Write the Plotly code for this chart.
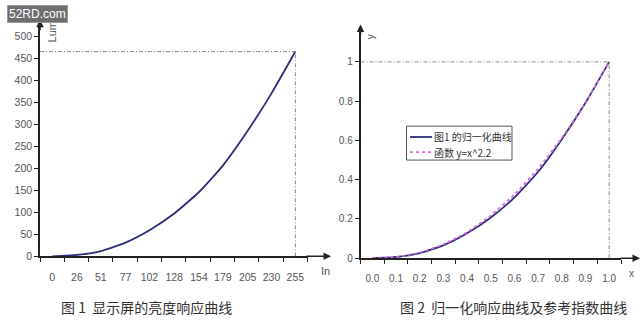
import plotly.graph_objects as go

# Figure 1: measured luminance against input level
in_levels = [0, 26, 51, 77, 102, 128, 154, 179, 205, 230, 255]
in_labels = ["0", "26", "51", "77", "102", "128", "154", "179", "205", "230", "255"]
luminance = [0, 3, 12, 31, 59, 97, 146, 206, 285, 370, 465]

# Figure 2: reference power function y = x^2.2 (tabulated)
ref_x = [0.0, 0.1, 0.2, 0.3, 0.4, 0.5, 0.6, 0.7, 0.8, 0.9, 1.0]
ref_y = [0.0, 0.006, 0.029, 0.071, 0.133, 0.218, 0.325, 0.456, 0.612, 0.793, 1.0]
x2_labels = ["0.0", "0.1", "0.2", "0.3", "0.4", "0.5", "0.6", "0.7", "0.8", "0.9", "1.0"]
y2_ticks = [0, 0.2, 0.4, 0.6, 0.8, 1.0]
y2_labels = ["0", "0.2", "0.4", "0.6", "0.8", "1"]
legend_names = ["图1 的归一化曲线", "函数 y=x^2.2"]

# normalised response derived from the measured curve
in_max = max(in_levels)
lum_max = max(luminance)
norm_x = [v / in_max for v in in_levels]
norm_y = [v / lum_max for v in luminance]

W, H = 643, 333


def px(x):
    return x / W


def py(y):
    return (H - y) / H


NAVY = "#2e2e7c"
PINK = "#d36fd3"
AXIS = "#222222"
TICK_TXT = "#555555"
GUIDE = "#8a8a8a"
FONT = "Liberation Sans, Arial, sans-serif"
CJK = "Noto Sans CJK SC, sans-serif"

navy_line = dict(color=NAVY, width=1.8)
pink_line = dict(color=PINK, width=1.8, dash="dot")

fig = go.Figure()

fig.add_trace(go.Scatter(
    x=in_levels, y=luminance, mode="lines",
    line=dict(**navy_line, shape="spline", smoothing=0.5),
    showlegend=False, xaxis="x", yaxis="y",
))

fig.add_trace(go.Scatter(
    x=norm_x, y=norm_y, mode="lines", name=legend_names[0],
    line=dict(**navy_line, shape="spline", smoothing=0.5),
    showlegend=False, xaxis="x2", yaxis="y2",
))
fig.add_trace(go.Scatter(
    x=ref_x, y=ref_y, mode="lines", name=legend_names[1],
    line=dict(**pink_line, shape="spline", smoothing=0.5),
    showlegend=False, xaxis="x2", yaxis="y2",
))

axis_common = dict(
    showline=True, linecolor=AXIS, linewidth=1.5, showgrid=False, zeroline=False,
    tickfont=dict(family=FONT, color=TICK_TXT),
    fixedrange=True,
)

fig.update_layout(
    width=W, height=H,
    margin=dict(l=0, r=0, t=0, b=0),
    paper_bgcolor="white", plot_bgcolor="white",
    showlegend=False,
    xaxis=dict(
        **axis_common, domain=[px(40), px(307.5)], range=[-12.75, 267.75],
        anchor="y", tickmode="array", tickvals=in_levels, ticktext=in_labels,
        ticks="", tickfont_size=10.5, ticklabelstandoff=10,
        minor=dict(ticks="outside", ticklen=4, tickcolor=AXIS, tickwidth=1,
                   tick0=-12.75, dtick=25.5),
    ),
    yaxis=dict(
        **axis_common, domain=[py(261), py(22)], range=[0, 533],
        anchor="x", tickmode="linear", tick0=0, dtick=50,
        ticks="outside", ticklen=4, tickcolor=AXIS, tickfont_size=10.5,
    ),
    xaxis2=dict(
        **axis_common, domain=[px(360.5), px(621)], range=[-0.05, 1.05],
        anchor="y2", tickmode="array", tickvals=ref_x, ticktext=x2_labels,
        ticks="", tickfont_size=10, ticklabelstandoff=10,
        minor=dict(ticks="outside", ticklen=4, tickcolor=AXIS, tickwidth=1,
                   tick0=-0.05, dtick=0.1),
    ),
    yaxis2=dict(
        **axis_common, domain=[py(263), py(27)], range=[0, 1.18],
        anchor="x2", tickmode="array", tickvals=y2_ticks, ticktext=y2_labels,
        ticks="outside", ticklen=4, tickcolor=AXIS, tickfont_size=10,
    ),
)

guide = dict(color=GUIDE, width=1, dash="4px,2px,1px,2px")
shapes = [
    # peak-luminance guides, figure 1
    dict(type="line", xref="x", yref="y", x0=-12.75, x1=in_max, y0=lum_max, y1=lum_max, line=guide),
    dict(type="line", xref="x", yref="y", x0=in_max, x1=in_max, y0=0, y1=lum_max, line=guide),
    # unit guides, figure 2
    dict(type="line", xref="x2", yref="y2", x0=-0.05, x1=1.0, y0=1.0, y1=1.0, line=guide),
    dict(type="line", xref="x2", yref="y2", x0=1.0, x1=1.0, y0=0, y1=1.0, line=guide),
    # compact legend box for figure 2
    dict(type="rect", xref="paper", yref="paper", x0=px(406.5), x1=px(512), y0=py(163),
         y1=py(128.5), line=dict(color="#555555", width=1), fillcolor="white"),
    dict(type="line", xref="paper", yref="paper", x0=px(410), x1=px(432), y0=py(139.5),
         y1=py(139.5), line=navy_line),
    dict(type="line", xref="paper", yref="paper", x0=px(410), x1=px(432), y0=py(155),
         y1=py(155), line=pink_line),
]
fig.update_layout(shapes=shapes)

annotations = []


def arrow(x_tip, y_tip, ax, ay):
    return dict(
        xref="paper", yref="paper", x=px(x_tip), y=py(y_tip), ax=ax, ay=ay,
        text="", showarrow=True, arrowhead=2, arrowsize=1, arrowwidth=1.5,
        arrowcolor=AXIS, standoff=0,
    )


def label(x, y, text, size, family=FONT, color=TICK_TXT, angle=0, xanchor="center"):
    return dict(
        xref="paper", yref="paper", x=px(x), y=py(y), xanchor=xanchor, yanchor="middle",
        text=text, textangle=angle, showarrow=False,
        font=dict(family=family, size=size, color=color),
    )


# axis arrows
annotations.append(arrow(40, 20, 0, 12))
annotations.append(arrow(331, 261, -26, 0))
annotations.append(arrow(360.5, 25, 0, 12))
annotations.append(arrow(640, 263, -21, 0))

# axis titles
annotations += [
    label(52, 33, "Lum", 11, angle=-90),
    label(325, 276, "In", 11),
    label(370, 38, "y", 10, angle=-90),
    label(631, 279, "x", 10),
]

# legend entries
annotations += [
    label(432, 139.5, legend_names[0], 10, family=CJK, color="#333333", xanchor="left"),
    label(432, 155, legend_names[1], 10, family=CJK, color="#333333", xanchor="left"),
]

# captions
annotations += [
    label(146, 313, "图 1  显示屏的亮度响应曲线", 14, family=CJK, color="#333333"),
    label(513, 313, "图 2  归一化响应曲线及参考指数曲线", 14, family=CJK, color="#333333"),
]

# site badge
annotations.append(dict(
    xref="paper", yref="paper", x=px(7), y=py(5), xanchor="left", yanchor="top",
    text="52RD.com", showarrow=False, bgcolor="#6e6e6e", bordercolor="#9a9a9a",
    borderwidth=1, borderpad=1, font=dict(family=FONT, size=12, color="white"),
))

fig.update_layout(annotations=annotations)

fig.write_html("out.html")
